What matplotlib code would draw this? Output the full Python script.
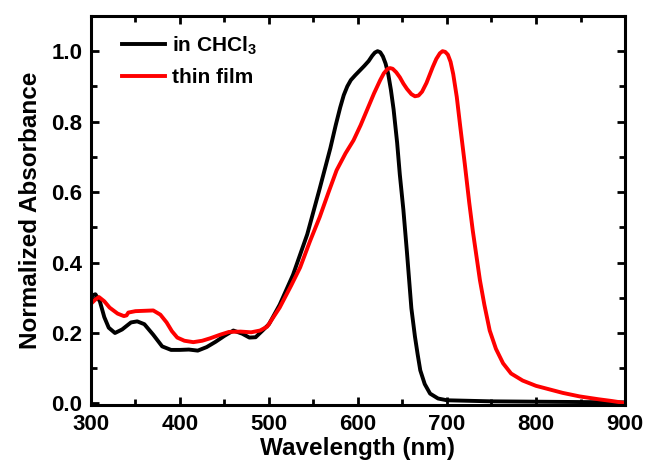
import numpy as np
import matplotlib
matplotlib.use('Agg')
import matplotlib.pyplot as plt
from matplotlib.ticker import MultipleLocator

plt.rcParams['font.family'] = 'Liberation Sans'
plt.rcParams['font.weight'] = 'bold'
plt.rcParams['mathtext.fontset'] = 'custom'
plt.rcParams['mathtext.bf'] = 'Liberation Sans:bold'
plt.rcParams['mathtext.rm'] = 'Liberation Sans:bold'
plt.rcParams['mathtext.default'] = 'bf'

# Absorption spectrum in chloroform solution
wl_sol = [300, 305, 310, 315, 320, 327, 335, 345, 352, 360, 370, 380, 390, 400,
          410, 420, 430, 440, 450, 460, 470, 478, 485, 492, 500, 512, 527, 543,
          557, 569, 575, 580, 584, 588, 592, 597, 602, 607, 612, 616, 619, 622,
          625, 628, 631, 634, 637, 640, 644, 647, 651, 655, 660, 664, 667, 670,
          675, 681, 690, 700, 750, 800, 850, 900]
abs_sol = [0.305, 0.31, 0.29, 0.245, 0.215, 0.20, 0.21, 0.23, 0.233, 0.225,
           0.195, 0.162, 0.152, 0.152, 0.153, 0.150, 0.160, 0.175, 0.192, 0.207,
           0.198, 0.187, 0.188, 0.205, 0.225, 0.28, 0.365, 0.48, 0.61, 0.725,
           0.79, 0.84, 0.875, 0.90, 0.918, 0.932, 0.945, 0.958, 0.972, 0.987,
           0.996, 1.0, 0.997, 0.985, 0.965, 0.935, 0.89, 0.835, 0.74, 0.65, 0.55,
           0.43, 0.27, 0.19, 0.14, 0.094, 0.055, 0.028, 0.014, 0.009, 0.006,
           0.005, 0.004, 0.003]

# Absorption spectrum of the spin-coated film
wl_film = [300, 305, 309, 315, 321, 330, 337, 340, 342, 350, 360, 370, 378, 385,
           391, 397, 405, 415, 425, 434, 445, 455, 468, 480, 490, 498, 512, 525,
           535, 546, 557, 567, 576, 586, 595, 603, 610, 618, 625, 629, 633, 636,
           639, 643, 647, 651, 655, 660, 664, 668, 672, 677, 684, 688, 692, 695,
           698, 701, 704, 707, 711, 715, 720, 725, 729, 733, 737, 742, 748, 755,
           763, 772, 785, 800, 812, 830, 849, 870, 885, 898]
abs_film = [0.283, 0.295, 0.302, 0.29, 0.272, 0.255, 0.248, 0.25, 0.258, 0.262,
            0.263, 0.264, 0.252, 0.23, 0.205, 0.187, 0.178, 0.174, 0.178, 0.185,
            0.195, 0.203, 0.204, 0.202, 0.207, 0.218, 0.272, 0.335, 0.386, 0.46,
            0.529, 0.60, 0.662, 0.71, 0.747, 0.79, 0.832, 0.88, 0.918, 0.937,
            0.949, 0.952, 0.95, 0.94, 0.926, 0.908, 0.893, 0.878, 0.872, 0.874,
            0.885, 0.91, 0.955, 0.978, 0.994, 1.0, 0.998, 0.99, 0.97, 0.935,
            0.87, 0.784, 0.68, 0.57, 0.49, 0.42, 0.35, 0.28, 0.207, 0.155, 0.114,
            0.085, 0.065, 0.05, 0.042, 0.03, 0.02, 0.012, 0.007, 0.002]

fig = plt.figure(figsize=(6.45, 4.69), dpi=100)
ax = fig.add_axes([0.141, 0.136, 0.828, 0.830])

ax.plot(wl_sol, abs_sol, color='black', lw=2.8, label=r'in CHCl$_{3}$')
ax.plot(wl_film, abs_film, color='#ff0000', lw=2.8, label='thin film')

ax.set_xlim(300, 900)
ax.set_ylim(-0.005, 1.1)
ax.xaxis.set_major_locator(MultipleLocator(100))
ax.xaxis.set_minor_locator(MultipleLocator(50))
ax.yaxis.set_major_locator(MultipleLocator(0.2))
ax.yaxis.set_minor_locator(MultipleLocator(0.1))
ax.tick_params(which='both', direction='in', top=True, right=True, width=2)
ax.tick_params(which='major', length=6, labelsize=16, pad=6)
ax.tick_params(which='minor', length=4)
ax.yaxis.set_major_formatter(plt.FuncFormatter(lambda v, p: f'{v:.1f}'))
for s in ax.spines.values():
    s.set_linewidth(2.2)

ax.set_xlabel('Wavelength (nm)', fontsize=17.5, fontweight='bold', labelpad=2)
ax.set_ylabel('Normalized Absorbance', fontsize=17.5, fontweight='bold', labelpad=7)

ax.legend(loc='upper left', frameon=False, fontsize=15, handlelength=2.1,
          handletextpad=0.3, labelspacing=0.55, borderaxespad=0.3,
          bbox_to_anchor=(0.03, 0.99))

fig.savefig('out.png', dpi=100)
